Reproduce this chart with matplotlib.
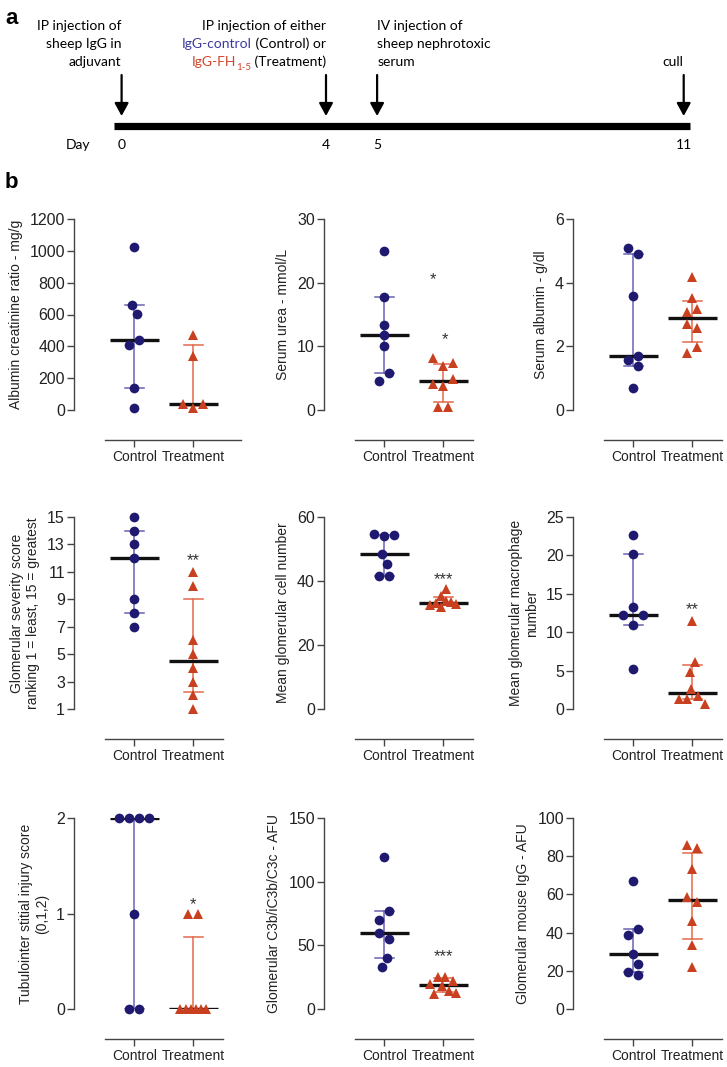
import numpy as np
import matplotlib
matplotlib.use('Agg')
import matplotlib.pyplot as plt
from matplotlib.transforms import ScaledTranslation

plt.rcParams['font.family'] = ['Liberation Sans', 'DejaVu Sans']

W, H, DPI = 727, 1067, 100

# ---- panel a : timeline ----
days = [0, 4, 5, 11]
day_labels = ['0', '4', '5', '11']
event_text = [
    [[('IP injection of', 'k')], [('sheep IgG in', 'k')], [('adjuvant', 'k')]],
    [[('IP injection of either', 'k')],
     [('IgG-control', '#3b3a9c'), (' (Control) or', 'k')],
     [('IgG-FH', '#d0462a'), ('1-5', '#d0462a', 'sub'), (' (Treatment)', 'k')]],
    [[('IV injection of', 'k')], [('sheep nephrotoxic', 'k')], [('serum', 'k')]],
    [[('cull', 'k')]],
]
event_align = ['right', 'right', 'left', 'right']

# ---- panel b : scatter plots ----
groups = ['Control', 'Treatment']

alb_ctrl = [1021, 601, 662, 441, 408, 139, 15]
alb_trt = [471, 340, 10, 38, 38]
urea_ctrl = [25.0, 17.7, 13.4, 11.8, 10.0, 5.8, 4.6]
urea_trt = [6.9, 8.1, 7.4, 3.7, 4.15, 4.9, 0.47, 0.47]
salb_ctrl = [4.89, 5.08, 3.59, 1.38, 1.58, 1.70, 0.68]
salb_trt = [4.17, 3.52, 3.18, 3.08, 2.59, 2.69, 1.99, 1.78]
sev_ctrl = [15, 14, 13, 12, 9, 8, 7]
sev_trt = [11, 10, 6, 5, 4, 3, 2, 1]
cell_ctrl = [54.0, 54.6, 54.4, 45.3, 48.3, 41.6, 41.6]
cell_trt = [37.5, 35.4, 33.8, 33.4, 33.0, 32.7, 32.5, 31.8]
mac_ctrl = [22.6, 20.2, 13.3, 12.2, 12.2, 10.9, 5.2]
mac_trt = [11.4, 6.1, 4.8, 2.6, 1.34, 1.64, 1.34, 0.7]
tub_ctrl = [2, 2, 2, 2, 1, 0, 0]
tub_trt = [1, 1, 0, 0, 0, 0, 0, 0]
c3_ctrl = [119.7, 76.7, 70.2, 55.3, 60.0, 39.9, 32.6]
c3_trt = [25.4, 25.4, 21.8, 19.4, 18.1, 14.4, 11.8, 12.8]
igg_ctrl = [67.1, 42.0, 39.0, 23.7, 28.8, 19.2, 17.9]
igg_trt = [84.1, 85.8, 73.5, 55.8, 58.6, 46.3, 33.3, 22.0]

panels = [
    (alb_ctrl, alb_trt, 'Albumin creatinine ratio - mg/g', list(range(0, 1201, 200)), []),
    (urea_ctrl, urea_trt, 'Serum urea - mmol/L', [0, 10, 20, 30],
     [('*', 0.82, 21.3), ('*', 1.02, 11.8)]),
    (salb_ctrl, salb_trt, 'Serum albumin - g/dl', [0, 2, 4, 6], []),
    (sev_ctrl, sev_trt, 'Glomerular severity score\nranking 1 = least, 15 = greatest',
     list(range(1, 16, 2)), [('**', 1.0, 12.2)]),
    (cell_ctrl, cell_trt, 'Mean glomerular cell number', [0, 20, 40, 60], [('***', 1.0, 42)]),
    (mac_ctrl, mac_trt, 'Mean glomerular macrophage\nnumber', [0, 5, 10, 15, 20, 25],
     [('**', 1.0, 13.6)]),
    (tub_ctrl, tub_trt, 'Tubulointer stitial injury score\n(0,1,2)', [0, 1, 2], [('*', 1.0, 1.15)]),
    (c3_ctrl, c3_trt, 'Glomerular C3b/iC3b/C3c - AFU', [0, 50, 100, 150], [('***', 1.0, 45)]),
    (igg_ctrl, igg_trt, 'Glomerular mouse IgG - AFU', [0, 20, 40, 60, 80, 100], []),
]

ctrl_col, ctrl_bar = '#1f1a70', '#6a62b4'
trt_col, trt_bar = '#c8401f', '#e2694c'


def swarm(vals, ppu, d=10.0, step=5.0, max_span=26.0):
    # beeswarm offsets in pixels, then centre / squeeze each cluster
    ys = np.asarray(vals, float) * ppu
    xs = np.zeros(len(ys))
    cands = [0.0]
    for k in range(1, 7):
        cands += [-k * step, k * step]
    for i, y in enumerate(ys):
        best, best_d = 0.0, -1.0
        for c in cands:
            dm = min([np.hypot(c - xs[j], y - ys[j]) for j in range(i)] or [1e9])
            if dm >= d - 1e-6:
                best = c
                break
            if dm > best_d:
                best_d, best = dm, c
        xs[i] = best
    order = np.argsort(ys)
    clusters = [[order[0]]]
    for a, b in zip(order[:-1], order[1:]):
        if ys[b] - ys[a] < d:
            clusters[-1].append(b)
        else:
            clusters.append([b])
    for cl in clusters:
        cl = np.array(cl)
        lo, hi = xs[cl].min(), xs[cl].max()
        xs[cl] -= (lo + hi) / 2
        if hi - lo > 30.0:
            xs[cl] *= max_span / (hi - lo)
    return xs


fig = plt.figure(figsize=(W / DPI, H / DPI), dpi=DPI)

# ---------------- panel a ----------------
px_day, x0_px = 51.1, 121.6
ax0 = fig.add_axes([0, 1 - 170 / H, 1, 170 / H])
ax0.set_xlim(-x0_px / px_day, (W - x0_px) / px_day)
ax0.set_ylim(170, 0)
ax0.axis('off')

ax0.plot([-0.14, 11.13], [126.5, 126.5], color='k', lw=5.2, solid_capstyle='butt')
for d in days:
    ax0.annotate('', xy=(d, 116), xytext=(d, 75),
                 arrowprops=dict(arrowstyle='-|>,head_width=0.3,head_length=0.55',
                                 lw=1.6, color='k', mutation_scale=14, shrinkA=0, shrinkB=0))
for d, lab in zip(days, day_labels):
    ax0.text(d, 145, lab, ha='center', va='center', fontsize=10, family='Lato')
ax0.text(-0.85, 145, 'Day', ha='center', va='center', fontsize=10, family='Lato')

renderer = fig.canvas.get_renderer()
base_lines = [30.5, 48.5, 66.5]
for d, lines, align in zip(days, event_text, event_align):
    ys = base_lines[-len(lines):]
    for y, pieces in zip(ys, lines):
        txts = []
        for p in pieces:
            sub = len(p) > 2
            t = ax0.text(d, y, p[0], color=p[1], fontsize=7 if sub else 10,
                         family='Lato', ha='left', va='baseline')
            txts.append((t, -3 if sub else 0))
        widths = [t.get_window_extent(renderer).width for t, _ in txts]
        off = -sum(widths) if align == 'right' else 0.0
        for (t, dy), w in zip(txts, widths):
            t.set_transform(ax0.transData + ScaledTranslation(off / DPI, dy / DPI,
                                                              fig.dpi_scale_trans))
            off += w

fig.text(5 / W, 1 - 18 / H, 'a', fontsize=16, fontweight='bold', va='center')
fig.text(5 / W, 1 - 183 / H, 'b', fontsize=16, fontweight='bold', va='center')

# ---------------- panel b ----------------
lefts = [74, 324, 573]
rows = [(219, 410), (517, 709), (818, 1009)]
ax_w = 149
xlo, xhi = -1.02, 1.5
ppx = ax_w / (xhi - xlo)

for n, (ctrl, trt, ylabel, yticks, stars) in enumerate(panels):
    top, bot = rows[n // 3]
    left = lefts[n % 3]
    ax = fig.add_axes([left / W, 1 - bot / H, ax_w / W, (bot - top) / H])
    ymin, ymax = yticks[0], yticks[-1]
    ppu = (bot - top) / (ymax - ymin)

    for i, (vals, col, bcol, mk) in enumerate([(ctrl, ctrl_col, ctrl_bar, 'o'),
                                               (trt, trt_col, trt_bar, '^')]):
        v = np.array(vals, float)
        xo = swarm(v - ymin, ppu) / ppx
        q1, q3 = np.percentile(v, [25, 75], method='weibull')
        med = np.median(v)
        ax.plot([i, i], [q1, q3], color=bcol, lw=1.1, zorder=2)
        for q in (q1, q3):
            ax.plot([i - 0.165, i + 0.165], [q, q], color=bcol, lw=1.1, zorder=2)
        ax.plot([i - 0.41, i + 0.41], [med, med], color='#111111', lw=2.4, zorder=3,
                solid_capstyle='butt')
        ax.plot(i + xo, v, ls='none', marker=mk, ms=7, color=col, mew=0,
                clip_on=False, zorder=4)

    for s, sx, sy in stars:
        ax.annotate(s, (sx, sy), xytext=(0, -7), textcoords='offset points',
                    ha='center', va='baseline', fontsize=12, color='#333333')

    ax.set_xlim(xlo, xhi)
    ax.set_ylim(ymin, ymax)
    ax.set_yticks(yticks)
    ax.set_xticks([0, 1])
    ax.set_xticklabels(groups)
    ax.set_ylabel(ylabel, fontsize=10, labelpad=5, color='#222222')
    for sp in ('top', 'right'):
        ax.spines[sp].set_visible(False)
    for sp in ('left', 'bottom'):
        ax.spines[sp].set_color('#444444')
        ax.spines[sp].set_linewidth(1.0)
    ax.spines['bottom'].set_position(('outward', 21.6))
    ax.spines['bottom'].set_bounds(-0.5, 1.8 if n == 0 else 1.5)
    ax.tick_params(length=5, width=1, color='#444444', pad=1.5, labelcolor='#222222')
    ax.tick_params(axis='y', labelsize=11.5)
    ax.tick_params(axis='x', labelsize=10, pad=2.5)
    ax.patch.set_alpha(0)

fig.savefig('out.png', dpi=DPI)
